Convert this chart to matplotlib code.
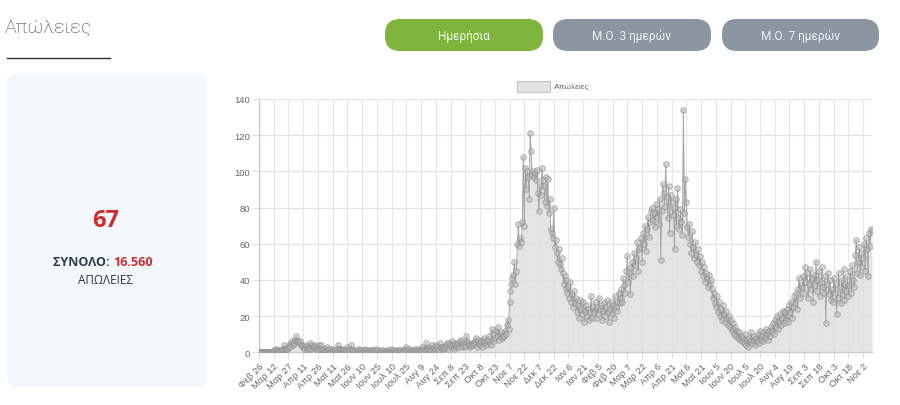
import numpy as np
import matplotlib
matplotlib.use("Agg")
import matplotlib.pyplot as plt
from matplotlib.patches import FancyBboxPatch

# daily deaths, 26 Feb 2020 .. 11 Nov 2021
feb20 = [0, 0, 0, 0]
mar20 = [0,0,0,0,0, 0,0,0,0,0, 0,1,0,2,1, 0,1,0,1,1, 2,4,2,2,2, 2,3,4,3,5, 6]
apr20 = [4,5,7,9,6, 6,5,6,4,4, 3,2,3,4,2, 3,2,5,2,4, 3,3,4,2,3, 1,4,2,4,2]
may20 = [1,2,0,1,3, 1,2,0,0,2, 1,0,1,0,1, 4,2,2,1,0, 1,2,1,0,1, 3,1,0,2,4, 1]
jun20 = [1,0,1,0,0, 2,0,1,1,0, 0,1,2,0,1, 0,0,1,0,1, 1,0,0,2,0, 1,0,0,1,0]
jul20 = [1,0,0,0,1, 0,1,0,2,0, 0,1,0,0,1, 0,0,1,1,0, 0,1,0,2,3, 1,0,2,0,1, 0]
aug20 = [1,0,2,1,0, 1,2,0,1,3, 0,2,1,5,2, 1,3,2,1,4, 2,3,2,4,3, 2,1,5,3,2, 3]
sep20 = [2,3,4,5,2, 5,4,3,6,4, 2,5,4,3,4, 5,3,6,7,3, 5,4,3,9,6, 5,4,3,4,5]
oct20 = [4,5,6,8,3, 7,5,4,6,3, 7,8,5,4,6, 7,9,5,4,13, 10,6,8,12,9, 14,7,10,11,8, 9]
nov20 = [9,12,10,15,18, 13,28,34,38,41, 43,50,38,45,60, 71,59,63,61,72,
         108,70,102,90,100, 97,85,121,111,98]
dec20 = [100,97,99,95,101, 88,78,92,87,102, 95,92,83,97,81, 96,77,85,68,66,
         63,80,58,62,55, 50,57,49,46,52, 44]
jan21 = [38,42,35,40,33, 36,30,39,28,32, 25,34,27,30,22, 26,19,29,24,21,
         28,17,23,26,20, 24,18,22,31,19, 25]
feb21 = [22,28,19,25,21, 30,24,26,18,23, 27,20,25,29,22, 17,24,28,21,26,
         19,31,25,23,28, 33,27,30]
mar21 = [35,28,41,37,33, 45,53,39,44,32, 47,50,42,55,48, 52,61,45,57,58,
         63,50,66,60,70, 56,68,75,64,72, 78]
apr21 = [80,73,77,69,82, 75,79,71,85,51, 78,93,88,81,104, 86,74,92,66,87,
         83,76,80,57,85, 70,91,74,68,79]
may21 = [72,65,134,77,96, 83,69,64,71,60, 55,67,58,52,61, 54,50,57,48,53,
         45,50,42,47,39, 44,41,36,43,38, 40]
jun21 = [35,30,33,27,25, 31,22,28,20,24, 18,26,21,17,23, 19,15,20,14,18,
         12,16,13,10,14, 9,12,8,11,7]
jul21 = [9,6,8,5,10, 4,7,3,8,6, 11,5,7,9,4, 8,6,10,5,12, 7,9,6,11,8, 13,10,7,12,9, 14]
aug21 = [12,16,10,18,14, 20,13,17,21,15, 19,23,16,22,18, 24,20,17,26,22,
         28,19,25,31,27, 33,24,35,41,30, 37]
sep21 = [36,42,33,47,39, 44,30,38,46,35, 41,28,43,37,50, 34,40,45,31,39,
         47,36,33,42,16, 38,44,32,40,29]
oct21 = [35,28,41,33,38, 21,30,44,36,27, 40,32,46,29,38, 34,42,31,37,45,
         33,48,40,36,54, 62,44,50,58,43, 55]
nov21 = [47,52,60,45,63, 57,42,66,59,68, 67]

tick_labels = ['Φεβ 26', 'Μαρ 12', 'Μαρ 27', 'Απρ 11', 'Απρ 26', 'Μαϊ 11', 'Μαϊ 26',
               'Ιουν 10', 'Ιουν 25', 'Ιουλ 10', 'Ιουλ 25', 'Αυγ 9', 'Αυγ 24', 'Σεπ 8',
               'Σεπ 23', 'Οκτ 8', 'Οκτ 23', 'Νοε 7', 'Νοε 22', 'Δεκ 7', 'Δεκ 22', 'Ιαν 6',
               'Ιαν 21', 'Φεβ 5', 'Φεβ 20', 'Μαρ 7', 'Μαρ 22', 'Απρ 6', 'Απρ 21', 'Μαϊ 6',
               'Μαϊ 21', 'Ιουν 5', 'Ιουν 20', 'Ιουλ 5', 'Ιουλ 20', 'Αυγ 4', 'Αυγ 19',
               'Σεπ 3', 'Σεπ 18', 'Οκτ 3', 'Οκτ 18', 'Νοε 2']
tick_step = 15

deaths = np.array(feb20 + mar20 + apr20 + may20 + jun20 + jul20 + aug20 + sep20
                  + oct20 + nov20 + dec20 + jan21 + feb21 + mar21 + apr21 + may21
                  + jun21 + jul21 + aug21 + sep21 + oct21 + nov21)
days = np.arange(len(deaths))

W, H = 900, 406
fig = plt.figure(figsize=(W / 100, H / 100), dpi=100)

# page layer in pixel coordinates
bg = fig.add_axes([0, 0, 1, 1], zorder=0)
bg.set_xlim(0, W)
bg.set_ylim(H, 0)
bg.axis('off')

bg.text(5, 33, 'Απώλειες', fontsize=14, color='#3c3c3c', family='Roboto',
        fontweight='light', va='baseline')
bg.plot([7, 110], [59, 59], color='#333333', lw=1)

buttons = [(385, 543, '#7db43c', 'Ημερήσια', '#f2f8ea'),
           (553, 711, '#8c96a1', 'Μ.Ο. 3 ημερών', '#eef1f4'),
           (722, 879, '#8c96a1', 'Μ.Ο. 7 ημερών', '#eef1f4')]
for x0, x1, c, txt, tc in buttons:
    bg.add_patch(FancyBboxPatch((x0, 20), x1 - x0, 32,
                                boxstyle='round,pad=0,rounding_size=15',
                                fc=c, ec='none'))
    bg.text((x0 + x1) / 2, 36.5, txt, fontsize=8.5, color=tc, family='Roboto',
            ha='center', va='center')

bg.add_patch(FancyBboxPatch((7, 75), 199, 313, boxstyle='round,pad=0,rounding_size=8',
                            fc='#f4f7fc', ec='none'))
bg.text(106, 221, '67', fontsize=17, color='#d22b2f', family='Open Sans',
        fontweight='bold', ha='center', va='center')
bg.text(113, 263, 'ΣΥΝΟΛΟ: ', fontsize=9, color='#2c3e55', family='Open Sans',
        fontweight='bold', ha='right', va='center')
bg.text(113, 263, '16.560', fontsize=9, color='#d22b2f', family='Open Sans',
        fontweight='bold', ha='left', va='center')
bg.text(106, 281, 'ΑΠΩΛΕΙΕΣ', fontsize=8.5, color='#333333', family='Open Sans',
        ha='center', va='center')

# legend
bg.add_patch(plt.Rectangle((517, 82), 33, 11, fc='#e2e2e2', ec='#c4c4c4', lw=0.8))
bg.text(554, 87.5, 'Απώλειες', fontsize=6, color='#666666', family='Liberation Sans',
        va='center')

# chart
left, right, top, bottom = 259, 872, 100, 353.3
ax = fig.add_axes([left / W, 1 - bottom / H, (right - left) / W, (bottom - top) / H],
                  zorder=1)
ax.patch.set_alpha(0)
ax.fill_between(days, deaths, 0, color='#dcdcdc', alpha=0.75, lw=0, zorder=2)
ax.plot(days, deaths, color='#a6a6a6', lw=0.7, zorder=3)
ax.plot(days, deaths, 'o', ms=4, mfc=(0.72, 0.72, 0.72, 0.5),
        mec=(0.55, 0.55, 0.55, 0.65), mew=0.7, zorder=4)

ax.set_xlim(0, len(deaths) - 1)
ax.set_ylim(0, 140)
ax.set_yticks(np.arange(0, 141, 20))
ax.set_xticks(np.arange(len(tick_labels)) * tick_step)
ax.set_xticklabels(tick_labels, rotation=45, ha='right', rotation_mode='anchor')
ax.grid(True, color='#e6e6e6', lw=0.8, zorder=0)
ax.set_axisbelow(True)
for s in ['top', 'right']:
    ax.spines[s].set_visible(False)
for s in ['left', 'bottom']:
    ax.spines[s].set_color('#cccccc')
    ax.spines[s].set_linewidth(1)
ax.tick_params(axis='both', length=5, color='#e0e0e0', labelcolor='#666666',
               labelsize=6.8, pad=1.5)
for lab in ax.get_xticklabels() + ax.get_yticklabels():
    lab.set_family('Liberation Sans')

fig.savefig('out.png', dpi=100)
